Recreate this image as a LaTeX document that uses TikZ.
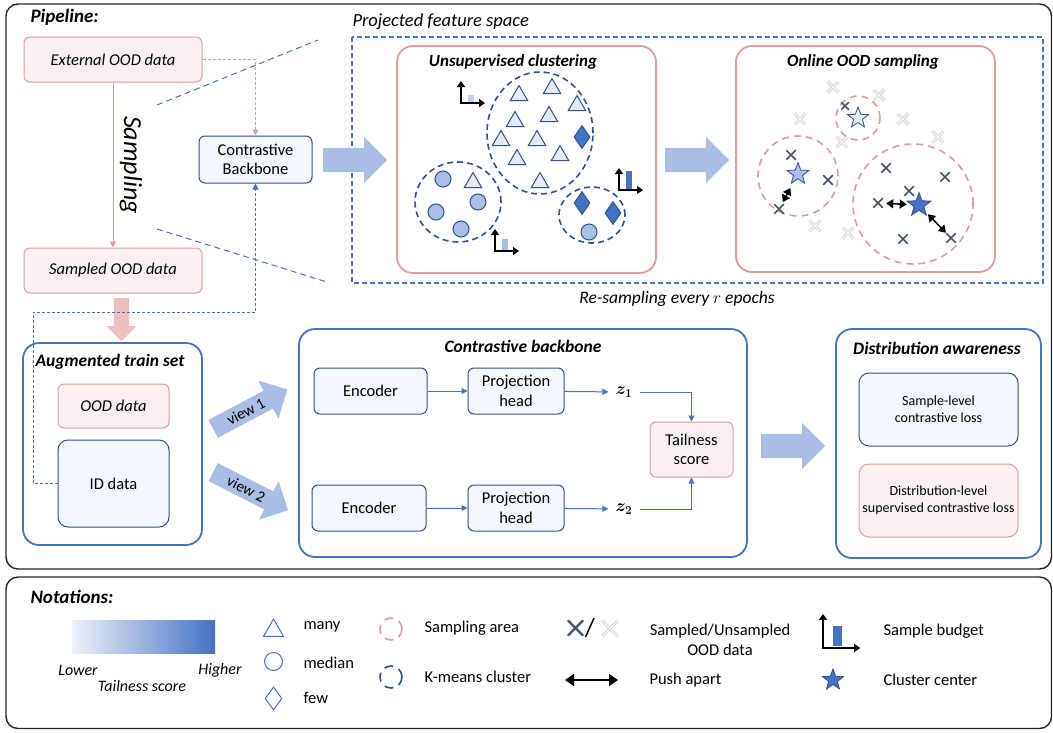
\documentclass[tikz,border=0pt]{standalone}
\usepackage{amsmath}
\usepackage{bm}
\usepackage{fontspec}
\setmainfont{Carlito}
\usetikzlibrary{shapes.geometric,shapes.arrows,shapes.misc,arrows.meta,positioning,calc}

\definecolor{pinkline}{HTML}{E39B9B}
\definecolor{pinkfill}{HTML}{F9F1F1}
\definecolor{pinkarrow}{HTML}{EEBFBF}
\definecolor{darkblue}{HTML}{2F528F}
\definecolor{midblue}{HTML}{4472C4}
\definecolor{bluefill}{HTML}{F4F7FD}
\definecolor{arrowblue}{HTML}{A9BEE5}
\definecolor{trifill}{HTML}{E6ECF7}
\definecolor{circfill}{HTML}{A9BFE5}
\definecolor{xdark}{HTML}{44546A}
\definecolor{xlight}{HTML}{C4C4C4}
\definecolor{gradlow}{HTML}{EEF2FA}

\newcommand\basesize{\fontsize{16.5}{19.5}\selectfont}
\newcommand\smallsize{\fontsize{14}{17}\selectfont}
\newcommand\titlesize{\fontsize{17.5}{21}\selectfont\bfseries\itshape}

\begin{document}
\begin{tikzpicture}[x=1pt, y=-1pt, font=\basesize,
  frame/.style={draw=black!85, line width=1.4pt, rounded corners=12pt},
  panel/.style={draw=midblue, line width=1.8pt, rounded corners=16pt, fill=white},
  pinkpanel/.style={draw=pinkline, line width=1.8pt, rounded corners=16pt, fill=white},
  box/.style={rounded corners=6pt, line width=1pt, align=center, inner sep=1pt},
  pinkbox/.style={box, draw=pinkline, fill=pinkfill},
  bluebox/.style={box, draw=darkblue, fill=bluefill},
  title/.style={font=\titlesize},
  flow/.style={draw=midblue, line width=1pt, -{Triangle[length=6pt,width=6pt]}},
  fat/.style={single arrow, fill=arrowblue, inner xsep=0pt, inner ysep=12pt, single arrow head extend=11pt, anchor=tail},
  tri/.style={regular polygon, regular polygon sides=3, draw=darkblue, fill=trifill, line width=1pt, minimum size=20pt, inner sep=0pt},
  med/.style={circle, draw=darkblue, fill=circfill, line width=1pt, minimum size=16pt, inner sep=0pt},
  few/.style={diamond, draw=darkblue, fill=midblue, line width=1pt, minimum width=16pt, minimum height=23pt, inner sep=0pt},
  kmeans/.style={draw=darkblue, line width=1.6pt, dash pattern=on 6pt off 4pt},
  sarea/.style={draw=pinkline, line width=1.6pt, dash pattern=on 7pt off 5pt},
  cstar/.style={star, star points=5, star point ratio=2.4, draw=darkblue, line width=0.8pt, minimum size=23pt, inner sep=0pt},
  xin/.style={cross out, draw=xdark, line width=1.5pt, minimum size=8pt, inner sep=0pt},
  xout/.style={cross out, draw=xlight, double=white, double distance=1.2pt, line width=0.8pt, minimum size=10pt, inner sep=0pt},
  push/.style={line width=1.5pt, {Triangle[length=7pt,width=9pt]}-{Triangle[length=7pt,width=9pt]}},
  pics/budget/.style={code={
    \fill[pic actions] (6.5,-1) rectangle (12.5,-#1);
    \draw[line width=2.1pt, {Triangle[length=6pt,width=8pt]}-{Triangle[length=6pt,width=8pt]}] (0,-22) -- (0,0) -- (24,0);
  }},
]
\useasboundingbox (0,0) rectangle (1053,732);
\draw[frame] (6,4) rectangle (1051.5,569);
\draw[frame] (6,577) rectangle (1051.5,728.5);
\node[title, font=\fontsize{19}{22}\selectfont\bfseries\itshape, anchor=west] (pipe) at (27,17) {Pipeline:};

% external data and backbone
\node[pinkbox, minimum width=178pt, minimum height=45pt, font=\basesize\itshape] (ext) at (113,59.5) {External OOD data};
\node[pinkbox, minimum width=178pt, minimum height=45pt, font=\basesize\itshape] (samp) at (113,270.5) {Sampled OOD data};
\draw[draw=pinkline, line width=1pt, -{Triangle[length=6pt,width=6pt]}] (ext) -- (samp);
\node[rotate=-90, font=\fontsize{26}{30}\selectfont\itshape] (samplbl) at (131,165) {Sampling};
\node[bluebox, minimum width=113pt, minimum height=47pt] (cb) at (255.5,159.5) {Contrastive\\Backbone};
\draw[pinkline, line width=1pt, dash pattern=on 3pt off 2pt, -{Triangle[length=6pt,width=6pt]}] (ext.east) -| (cb.north);

% projected feature space
\draw[midblue, line width=1pt, dash pattern=on 6pt off 4pt] (157,105) -- (318,40);
\draw[midblue, line width=1pt, dash pattern=on 6pt off 4pt] (157,229) -- (327,282);
\draw[midblue, line width=1.4pt, dash pattern=on 5pt off 3pt] (352,37) rectangle (1043,283);
\node[anchor=west, font=\fontsize{18.5}{22}\selectfont\itshape] (pfs) at (349,22) {Projected feature space};
\node[font=\fontsize{17.5}{21}\selectfont\itshape] (resamp) at (677,299) {Re-sampling every $r$ epochs};
\node[fat, minimum height=64pt] (fa1) at (323,160) {};
\node[fat, minimum height=64pt] (fa2) at (665,160) {};

% unsupervised clustering
\node[pinkpanel, minimum width=259pt, minimum height=227pt] (clus) at (526.5,159.5) {};
\node[title, font=\fontsize{17}{20}\selectfont\bfseries\itshape] (clustitle) at (513,62) {Unsupervised clustering};
\draw[kmeans] (540,133) ellipse [x radius=53pt, y radius=61pt];
\draw[kmeans] (458,202) ellipse [x radius=43pt, y radius=40pt];
\draw[kmeans] (592,215) ellipse [x radius=33pt, y radius=28pt];
\foreach \x/\y [count=\i] in {519/93, 552/86, 577/103, 515/119, 549/114, 501/138, 537/138, 517/157, 560/153, 540/180, 473/180}
  \node[tri] (tri\i) at (\x,\y+2.5) {};
\foreach \x/\y [count=\i] in {443/179, 436/212, 478/202, 461/229, 589/232}
  \node[med] (med\i) at (\x,\y) {};
\foreach \x/\y [count=\i] in {582/137, 582/203, 613/213}
  \node[few] (few\i) at (\x,\y) {};
\pic[fill=blue!8!arrowblue!60] (bud1) at (461,103) {budget=8};
\pic[fill=midblue] (bud2) at (619,190) {budget=19};
\pic[fill=arrowblue] (bud3) at (495,251) {budget=12};

% online OOD sampling
\node[pinkpanel, minimum width=259pt, minimum height=226pt] (onl) at (865.5,159) {};
\node[title, font=\fontsize{17}{20}\selectfont\bfseries\itshape] (onltitle) at (863,62) {Online OOD sampling};
\draw[sarea] (858,118) circle [radius=22pt];
\draw[sarea] (798,176) circle [radius=40pt];
\draw[sarea] (913,204) circle [radius=60pt];
\foreach \x/\y [count=\i] in {833/87, 879/95, 800/119, 903/119, 938/137, 842/142, 815/226, 848/233}
  \node[xout] (xu\i) at (\x,\y) {};
\foreach \x/\y/\s [count=\i] in {845/106/6, 791/155/8, 828/180/8, 779/209/8, 886/168/8, 945/177/8, 909/191/8, 878/203/8, 903/239/8, 951/238/8}
  \node[xin, minimum size=\s pt] (xs\i) at (\x,\y) {};
\node[cstar, fill=trifill, minimum size=22pt] (st1) at (858,118) {};
\node[cstar, fill=circfill] (st2) at (798,174) {};
\node[cstar, fill=midblue, minimum size=25pt] (st3) at (919,205) {};
\draw[push] ($(xs4)!0.2!(st2)$) -- ($(xs4)!0.6!(st2)$);
\draw[push] ($(xs8)!0.2!(st3)$) -- ($(xs8)!0.7!(st3)$);
\draw[push] ($(st3)!0.28!(xs10)$) -- ($(st3)!0.84!(xs10)$);

% augmented train set
\node[fat, fill=pinkarrow, rotate=-90, minimum height=43pt, inner ysep=7.5pt, single arrow head extend=7.5pt] (fa4) at (121.5,298) {};
\node[panel, minimum width=179pt, minimum height=202pt] (aug) at (112.5,444) {};
\node[title] (augtitle) at (110,362) {Augmented train set};
\node[pinkbox, minimum width=111pt, minimum height=44pt, font=\basesize\itshape] (oodd) at (113.5,406) {OOD data};
\node[bluebox, minimum width=111pt, minimum height=87pt, rounded corners=10pt] (idd) at (113.5,483.5) {ID data};
\coordinate (bend) at (33,312);
\draw[midblue, line width=1pt, dash pattern=on 3pt off 2pt, -{Triangle[length=6pt,width=6pt]}] (idd.west) -| (bend) -| (cb.south);
\node[fat, rotate=28, minimum height=84pt, inner ysep=4.5pt, inner xsep=2pt, single arrow head extend=11.5pt, font=\fontsize{15.5}{18}\selectfont] (v1) at (213,429) {view 1};
\node[fat, rotate=-27, minimum height=84pt, inner ysep=4.5pt, inner xsep=2pt, single arrow head extend=11.5pt, font=\fontsize{15.5}{18}\selectfont] (v2) at (213,472) {view 2};

% contrastive backbone
\node[panel, minimum width=448pt, minimum height=228pt] (bb) at (523,443) {};
\node[title] (bbtitle) at (523,346) {Contrastive backbone};
\node[bluebox, minimum width=113pt, minimum height=46pt] (enc1) at (370.5,391) {Encoder};
\node[bluebox, minimum width=96pt, minimum height=46pt] (proj1) at (516,391) {Projection\\head};
\node[inner sep=7pt, font=\fontsize{18}{21}\selectfont] (z1) at (624,392) {$\bm{z}_{\bm{1}}$};
\node[bluebox, minimum width=114pt, minimum height=46pt] (enc2) at (369,508) {Encoder};
\node[bluebox, minimum width=96pt, minimum height=46pt] (proj2) at (516,508) {Projection\\head};
\node[inner sep=7pt, font=\fontsize{18}{21}\selectfont] (z2) at (624,509) {$\bm{z}_{\bm{2}}$};
\node[pinkbox, minimum width=83pt, minimum height=55pt] (tail) at (691.5,449.5) {Tailness\\score};
\draw[flow] (enc1) -- (proj1);
\draw[flow] (proj1) -- (z1);
\draw[flow] (z1) -| (tail);
\draw[flow] (enc2) -- (proj2);
\draw[flow] (proj2) -- (z2);
\draw[flow] (z2) -| (tail);

% distribution awareness
\node[fat, minimum height=64pt] (fa3) at (761,446) {};
\node[panel, minimum width=205pt, minimum height=229pt] (dist) at (938.5,443.5) {};
\node[title] (disttitle) at (937,348) {Distribution awareness};
\node[bluebox, minimum width=159pt, minimum height=73pt, rounded corners=10pt, font=\smallsize] (sl) at (938.5,409.5) {Sample-level\\contrastive loss};
\node[pinkbox, minimum width=159pt, minimum height=73pt, rounded corners=10pt, font=\smallsize] (dl) at (938.5,500.5) {Distribution-level\\supervised contrastive loss};

% notations
\node[title, font=\fontsize{19}{22}\selectfont\bfseries\itshape, anchor=west] (nota) at (27,597) {Notations:};
\shade[left color=gradlow, right color=midblue] (72,620) rectangle (215,653);
\node[font=\fontsize{16}{19}\selectfont\itshape] (lower) at (78,670) {Lower};
\node[font=\fontsize{16}{19}\selectfont\itshape] (higher) at (220,670) {Higher};
\node[font=\fontsize{16}{19}\selectfont\itshape] (tscore) at (142,686) {Tailness score};
\node[tri, draw=midblue, fill=none, minimum size=23pt] (ltri) at (273.5,630.5) {};
\node[med, draw=midblue, fill=none, minimum size=18pt] (lmed) at (273.5,661.5) {};
\node[few, draw=midblue, fill=none, minimum width=17pt] (lfew) at (273.5,698.5) {};
\node[anchor=west] (tmany) at (300,627) {many};
\node[anchor=west] (tmed) at (300,663) {median};
\node[anchor=west] (tfew) at (300,698) {few};
\draw[sarea, dash pattern=on 9pt off 6pt] (391,629) circle [radius=11pt];
\draw[kmeans, dash pattern=on 9pt off 6pt] (391,677) circle [radius=11pt];
\node[anchor=west] (tarea) at (421,628) {Sampling area};
\node[anchor=west] (tkm) at (421,677) {K-means cluster};
\node[xin, line width=2.3pt, minimum size=13pt] (lxs) at (575.5,628) {};
\node[font=\fontsize{26}{30}\selectfont] (slash) at (590,628) {/};
\node[xout, minimum size=15pt] (lxu) at (610,628.5) {};
\node[align=center] (tsamp) at (720,640) {Sampled/Unsampled\\OOD data};
\coordinate (pa1) at (565,680);
\coordinate (pa2) at (618,680);
\draw[line width=1.5pt, {Triangle[length=9pt,width=12pt]}-{Triangle[length=9pt,width=12pt]}] (pa1) -- (pa2);
\node[anchor=west] (tpush) at (646,680) {Push apart};
\pic[fill=midblue, scale=1.55] (lbud) at (823,648) {budget=14};
\node[anchor=west] (tbud) at (880,631) {Sample budget};
\node[cstar, fill=midblue, minimum size=22pt] (lstar) at (833,680) {};
\node[anchor=west] (tcen) at (880,680) {Cluster center};
\end{tikzpicture}
\end{document}
